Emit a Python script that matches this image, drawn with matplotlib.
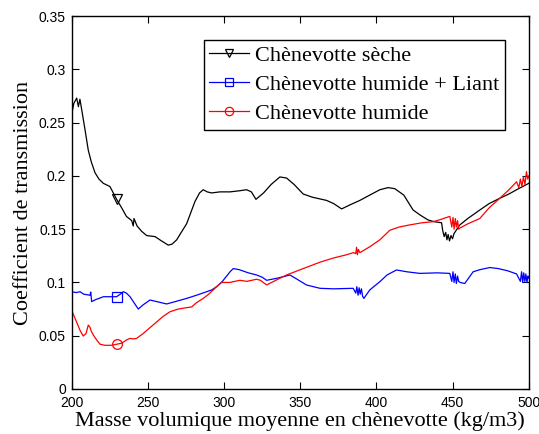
import matplotlib
matplotlib.use("Agg")
import matplotlib.pyplot as plt
from matplotlib.lines import Line2D
from matplotlib.ticker import FuncFormatter

# ---- data ----
x_seche = [200, 201.5, 203.4, 204.5, 205.5, 206.7, 209, 211, 213, 215.4,
           218, 220.9, 225.2, 229.6, 232.9, 236, 239.5, 240.5, 241, 243,
           246, 249.3, 254.8, 259, 263.5, 266, 269, 272, 275.5, 281,
           284, 286.4, 289, 291.9, 297.4, 304, 310, 314.9, 318, 321,
           326, 331, 336.7, 341.1, 346, 352, 358, 367.3, 372, 377.2,
           383, 389.2, 395.7, 402.3, 407.7, 412.1, 418, 424.1, 429, 434,
           438, 442.8, 443.5, 444.5, 445.5, 446.3, 447.1, 448, 449, 450,
           451, 454.8, 460, 467.9, 474, 481, 487, 492, 496, 500]
y_seche = [0.257, 0.268, 0.273, 0.265, 0.272, 0.262, 0.242, 0.224, 0.213, 0.203,
           0.197, 0.193, 0.190, 0.178, 0.170, 0.162, 0.158, 0.153, 0.160, 0.153,
           0.148, 0.144, 0.143, 0.139, 0.135, 0.136, 0.140, 0.147, 0.155, 0.176,
           0.184, 0.187, 0.185, 0.184, 0.185, 0.185, 0.186, 0.187, 0.185, 0.178,
           0.184, 0.192, 0.199, 0.198, 0.192, 0.183, 0.180, 0.177, 0.174, 0.169,
           0.173, 0.177, 0.182, 0.187, 0.189, 0.188, 0.182, 0.168, 0.163, 0.1586,
           0.157, 0.156, 0.149, 0.143, 0.147, 0.140, 0.145, 0.139, 0.144, 0.141,
           0.146, 0.154, 0.160, 0.168, 0.174, 0.179, 0.183, 0.187, 0.190, 0.193]

x_liant = [200, 203, 205.6, 208, 210, 212.1, 212.6, 213.2, 216, 218,
           220.9, 225, 229.6, 232, 234, 236, 238.4, 241, 243.8, 247,
           251.5, 256, 262.4, 268, 275.5, 282, 288.7, 292, 295.2, 299,
           304, 306.1, 310, 316, 321.4, 325, 328, 335, 343.3, 348,
           354.2, 363, 372, 384.8, 386.5, 387.2, 388, 388.7, 389.4, 390.2,
           391, 391.8, 395.7, 402.3, 407, 413.2, 420, 428.5, 440, 448.2,
           449.5, 450.3, 451, 451.8, 452.5, 453.3, 454, 455, 458, 463.5,
           468, 474.4, 480, 486, 492, 494.5, 495.3, 496, 496.7, 497.4,
           498.1, 498.8, 499.5, 500]
y_liant = [0.0913, 0.0905, 0.0913, 0.089, 0.0885, 0.088, 0.091, 0.082, 0.084, 0.085,
           0.0866, 0.0866, 0.0866, 0.089, 0.0913, 0.090, 0.0866, 0.081, 0.075, 0.079,
           0.0835, 0.082, 0.0798, 0.082, 0.085, 0.088, 0.0913, 0.093, 0.096, 0.101,
           0.110, 0.113, 0.112, 0.109, 0.107, 0.105, 0.102, 0.104, 0.107, 0.103,
           0.0976, 0.0945, 0.094, 0.0945, 0.090, 0.096, 0.088, 0.095, 0.089, 0.094,
           0.087, 0.085, 0.093, 0.1007, 0.107, 0.1117, 0.110, 0.1085, 0.109, 0.1085,
           0.101, 0.110, 0.100, 0.108, 0.099, 0.106, 0.101, 0.100, 0.099, 0.110,
           0.112, 0.114, 0.113, 0.111, 0.108, 0.101, 0.110, 0.100, 0.109, 0.101,
           0.108, 0.100, 0.106, 0.104]

x_humide = [200, 203, 205.6, 207.7, 209.5, 211, 212.1, 213, 214.3, 216.5,
            218.7, 222, 226, 229.6, 233, 236, 238.4, 240.5, 242.7, 247,
            251, 255.9, 260, 264.6, 270, 274, 278.8, 282, 286.4, 290,
            295.2, 298.5, 304, 306.1, 310.5, 315, 321.4, 324, 328, 334,
            341.1, 352, 363, 372, 380.5, 385, 386.5, 387, 387.6, 388.2,
            389.2, 395.7, 402.3, 408.9, 415, 421.9, 430, 437.2, 442, 448.2,
            449.5, 450.3, 451, 451.8, 452.5, 453.3, 454, 454.8, 460, 467.9,
            474, 481, 487, 492, 493.5, 494.5, 495.5, 496.5, 497.5, 498.5,
            499.3, 500]
y_humide = [0.074, 0.064, 0.055, 0.0497, 0.052, 0.060, 0.058, 0.054, 0.0507, 0.046,
            0.042, 0.041, 0.041, 0.042, 0.043, 0.046, 0.0475, 0.047, 0.0475, 0.052,
            0.057, 0.063, 0.068, 0.0725, 0.075, 0.076, 0.077, 0.081, 0.085, 0.089,
            0.096, 0.100, 0.100, 0.1007, 0.102, 0.101, 0.103, 0.102, 0.0976, 0.102,
            0.107, 0.113, 0.119, 0.123, 0.126, 0.128, 0.127, 0.133, 0.126, 0.131,
            0.128, 0.1335, 0.140, 0.149, 0.152, 0.154, 0.156, 0.157, 0.159, 0.162,
            0.152, 0.161, 0.150, 0.160, 0.152, 0.158, 0.150, 0.151, 0.155, 0.160,
            0.170, 0.179, 0.187, 0.1945, 0.189, 0.197, 0.190, 0.199, 0.192, 0.204,
            0.197, 0.200]

labels = ["Chènevotte sèche", "Chènevotte humide + Liant", "Chènevotte humide"]
x_ticks = [200, 250, 300, 350, 400, 450, 500]
y_ticks = [0, 0.05, 0.1, 0.15, 0.2, 0.25, 0.3, 0.35]
marker_x = 229.6

# ---- figure ----
fig = plt.figure(figsize=(5.39, 4.34), dpi=100)
ax = fig.add_axes([0.1327, 0.1037, 0.981 - 0.1327, 0.963 - 0.1037])

series = [
    (x_seche, y_seche, "black", "v"),
    (x_liant, y_liant, "blue", "s"),
    (x_humide, y_humide, "red", "o"),
]
handles = []
for (xs, ys, c, m), lab in zip(series, labels):
    ax.plot(xs, ys, color=c, lw=0.9, marker=m, markevery=[xs.index(marker_x)],
            markerfacecolor="none", markeredgecolor=c, markersize=7, mew=0.9)
    handles.append(Line2D([], [], color=c, lw=0.9, marker=m, markerfacecolor="none",
                          markeredgecolor=c, markersize=6, mew=0.9))

ax.set_xlim(200, 500)
ax.set_ylim(0, 0.35)
ax.set_xticks(x_ticks)
ax.set_yticks(y_ticks)
ax.yaxis.set_major_formatter(FuncFormatter(lambda v, p: "%g" % round(v, 3)))
ax.tick_params(direction="in", top=True, right=True, length=5, width=0.8,
               labelsize=10)
ax.tick_params(axis="x", pad=5)
ax.tick_params(axis="y", pad=4)
for lab in ax.get_xticklabels() + ax.get_yticklabels():
    lab.set_family("Liberation Sans")
for s in ax.spines.values():
    s.set_linewidth(1.0)

ax.set_xlabel("Masse volumique moyenne en chènevotte (kg/m3)",
              family="Liberation Serif", fontsize=16, labelpad=1)
ax.set_ylabel("Coefficient de transmission",
              family="Liberation Serif", fontsize=16, labelpad=4)

leg = ax.legend(handles, labels, loc="upper right", bbox_to_anchor=(0.9475, 0.9357),
                prop={"family": "Liberation Serif", "size": 16},
                fancybox=False, framealpha=1, edgecolor="black",
                handlelength=1.8, handletextpad=0.25, labelspacing=0.38,
                borderpad=0.25, borderaxespad=0)
leg.get_frame().set_linewidth(1.0)

fig.savefig("out.png", dpi=100)
